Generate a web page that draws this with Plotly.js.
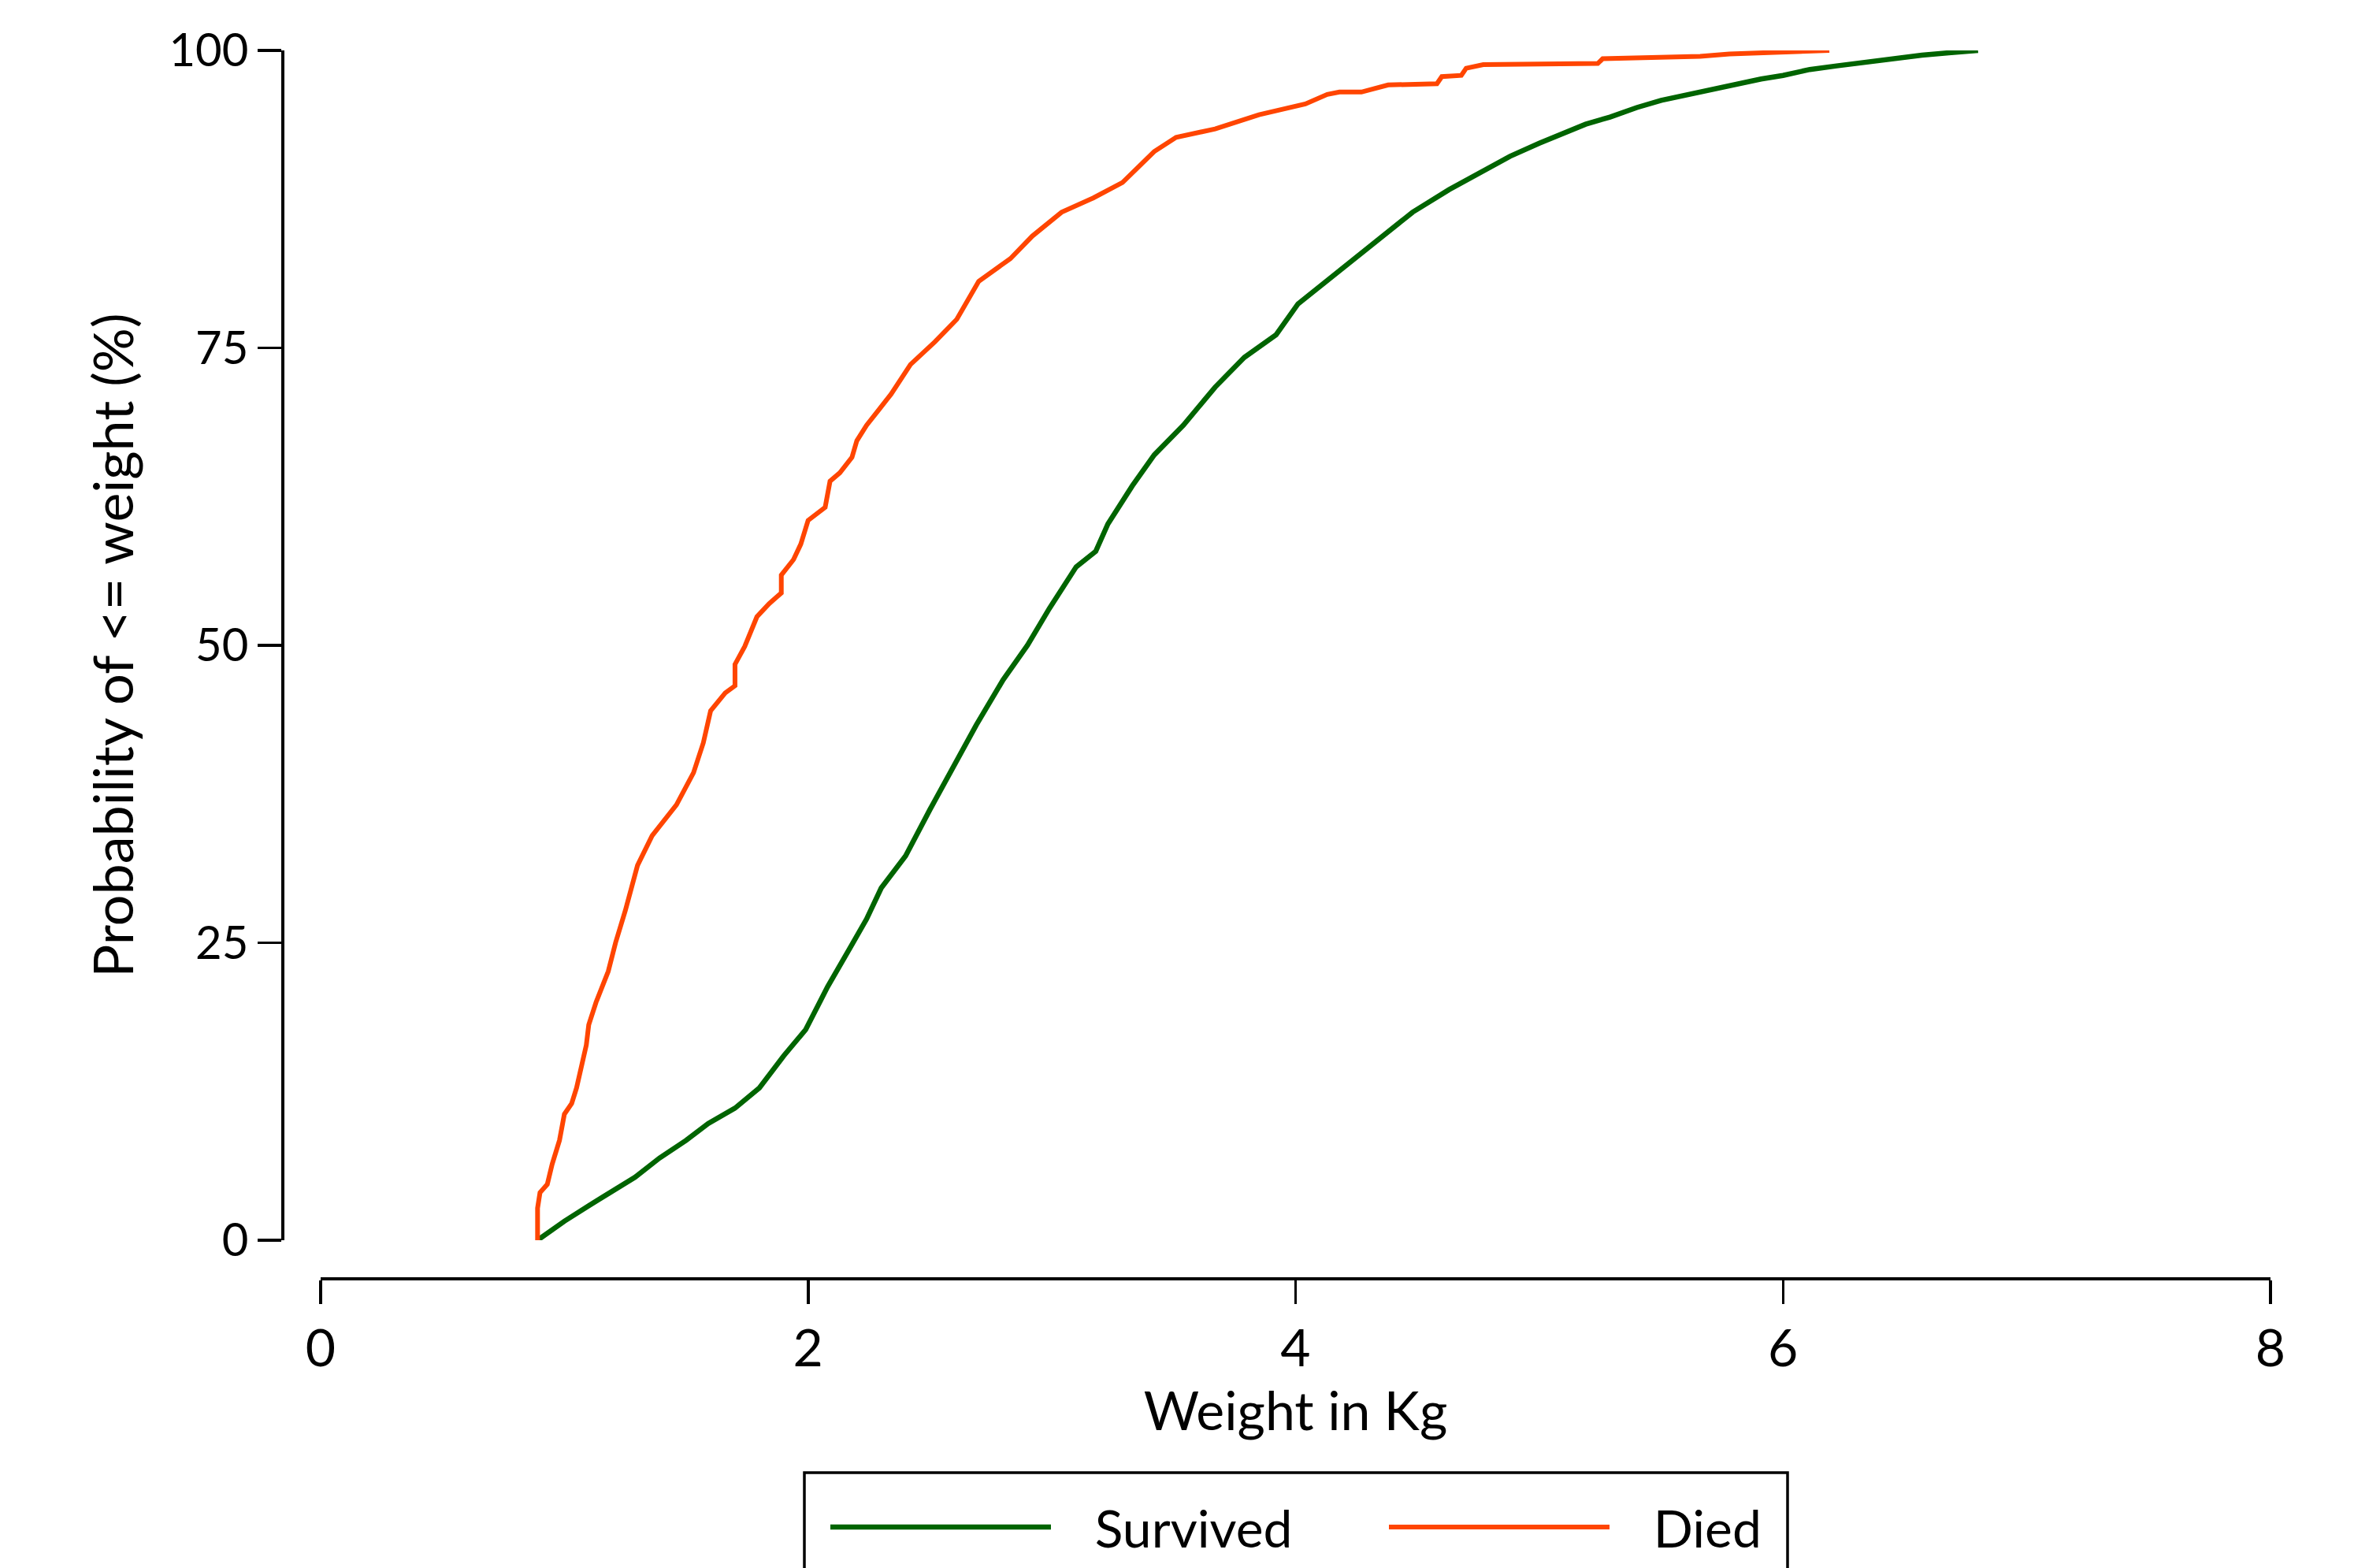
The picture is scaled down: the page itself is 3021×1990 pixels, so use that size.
<!DOCTYPE html>
<html>
<head>
<meta charset="utf-8">
<script src="https://cdn.plot.ly/plotly-3.0.1.min.js"></script>
<style>
  html, body { margin: 0; padding: 0; background: #ffffff; }
  #chart { width: 3021px; height: 1990px; }
</style>
</head>
<body>
<div id="chart"></div>
<script>
// ---- Data ----
var seriesNames = ["Survived", "Died"];
var seriesColors = ["#006400", "#FF4500"];

// Survived: weight (kg) and cumulative probability (%)
var survivedWeight = [0.89, 1.00, 1.10, 1.20, 1.29, 1.39, 1.50, 1.59, 1.70, 1.80, 1.90, 1.99,
  2.08, 2.17, 2.24, 2.30, 2.40, 2.50, 2.60, 2.69, 2.80, 2.90, 2.99, 3.10, 3.18,
  3.23, 3.33, 3.42, 3.54, 3.67, 3.79, 3.92, 4.01, 4.17, 4.32, 4.48, 4.63, 4.82,
  4.88, 5.00, 5.09, 5.19, 5.29, 5.40, 5.50, 5.61, 5.70, 5.81, 5.91, 6.00, 6.11,
  6.22, 6.33, 6.44, 6.57, 6.68, 6.80];
var survivedProb = [0, 1.6, 2.9, 4.2, 5.3, 6.9, 8.4, 9.8, 11.1, 12.8, 15.5, 17.7,
  21.3, 24.5, 27.0, 29.6, 32.3, 36.2, 40.0, 43.3, 47.1, 50.0, 53.1, 56.6, 57.9,
  60.2, 63.4, 66.0, 68.5, 71.7, 74.2, 76.1, 78.7, 81.3, 83.8, 86.4, 88.3, 90.4,
  91.1, 92.2, 93.0, 93.8, 94.4, 95.2, 95.8, 96.3, 96.7, 97.2, 97.6, 97.9, 98.4,
  98.7, 99.0, 99.3, 99.6, 99.8, 100];

// Died: weight (kg) and cumulative probability (%)
var diedWeight = [0.89, 0.89, 0.90, 0.93, 0.95, 0.98, 1.00, 1.03, 1.05, 1.07, 1.09, 1.10,
  1.13, 1.18, 1.21, 1.25, 1.30, 1.36, 1.46, 1.53, 1.57, 1.60, 1.66, 1.70, 1.70,
  1.74, 1.79, 1.84, 1.89, 1.89, 1.94, 1.97, 2.00, 2.07, 2.09, 2.13, 2.18, 2.20,
  2.24, 2.29, 2.34, 2.42, 2.52, 2.61, 2.70, 2.83, 2.92, 3.04, 3.17, 3.29, 3.42,
  3.51, 3.67, 3.85, 4.04, 4.13, 4.18, 4.27, 4.38, 4.58, 4.60, 4.68, 4.70, 4.77,
  5.24, 5.26, 5.66, 5.78, 6.15, 6.19];
var diedProb = [0, 2.7, 4.0, 4.7, 6.4, 8.4, 10.6, 11.5, 12.8, 14.8, 16.4, 18.1,
  20.0, 22.6, 25.0, 27.7, 31.5, 34.0, 36.6, 39.3, 41.8, 44.5, 46.0, 46.6, 48.4,
  49.9, 52.4, 53.5, 54.4, 55.9, 57.2, 58.5, 60.5, 61.6, 63.8, 64.5, 65.8, 67.2,
  68.5, 69.8, 71.1, 73.6, 75.5, 77.4, 80.6, 82.5, 84.4, 86.4, 87.6, 88.9, 91.5,
  92.7, 93.4, 94.6, 95.5, 96.3, 96.5, 96.5, 97.1, 97.2, 97.8, 97.9, 98.5, 98.8,
  98.9, 99.3, 99.5, 99.7, 99.9, 100];

var xTickVals = [0, 2, 4, 6, 8];
var xTickText = ["0", "2", "4", "6", "8"];
var yTickVals = [0, 25, 50, 75, 100];
var yTickText = ["0", "25", "50", "75", "100"];

var xTitle = "Weight in Kg";
var yTitle = "Probability of &lt;= weight (%)";

// ---- Layout geometry ----
var W = 3021, H = 1990;
var FONT = "Lato, 'Open Sans', sans-serif";
var mL = 358, mR = 139, mT = 64, mB = 368;
var plotW = W - mL - mR, plotH = H - mT - mB;
function px2fx(p) { return (p - mL) / plotW; }
function px2fy(p) { return (H - mB - p) / plotH; }

var pad = "\u00a0\u00a0\u00a0";

var traces = [
  {
    type: "scatter", mode: "lines",
    x: survivedWeight, y: survivedProb,
    name: pad + seriesNames[0],
    line: { color: seriesColors[0], width: 6.5 },
    cliponaxis: false,
    legendwidth: 414
  },
  {
    type: "scatter", mode: "lines",
    x: diedWeight, y: diedProb,
    name: pad + seriesNames[1],
    line: { color: seriesColors[1], width: 6 },
    cliponaxis: false
  }
];

var layout = {
  width: W, height: H,
  paper_bgcolor: "#ffffff", plot_bgcolor: "#ffffff",
  margin: { l: mL, r: mR, t: mT, b: mB, autoexpand: false },
  font: { family: FONT, color: "#000000", size: 66 },
  showlegend: true,
  xaxis: {
    range: [0, 8], domain: [px2fx(407), 1],
    anchor: "free", position: 0,
    tickmode: "array", tickvals: xTickVals, ticktext: xTickText,
    ticks: "outside", ticklen: 30, tickwidth: 3.5, tickcolor: "#000000",
    showline: true, linewidth: 3.5, linecolor: "#000000",
    showgrid: false, zeroline: false,
    tickfont: { family: FONT, size: 66, color: "#000000" },
    title: { text: xTitle, font: { family: FONT, size: 68, color: "#000000" }, standoff: 10 }
  },
  yaxis: {
    range: [0, 100], domain: [px2fy(1574), 1],
    anchor: "free", position: 0,
    tickmode: "array", tickvals: yTickVals, ticktext: yTickText,
    ticks: "outside", ticklen: 30, tickwidth: 3.5, tickcolor: "#000000",
    showline: true, linewidth: 3.5, linecolor: "#000000",
    showgrid: false, zeroline: false,
    tickfont: { family: FONT, size: 58, color: "#000000" },
    title: { text: yTitle, font: { family: FONT, size: 70, color: "#000000" }, standoff: 20 }
  },
  legend: {
    orientation: "h",
    x: px2fx(1049), xanchor: "left",
    y: px2fy(1938), yanchor: "middle",
    itemwidth: 280,
    font: { family: FONT, size: 66, color: "#000000" },
    bgcolor: "rgba(0,0,0,0)", borderwidth: 0,
    itemclick: false, itemdoubleclick: false
  },
  shapes: [
    {
      type: "rect", xref: "paper", yref: "paper",
      x0: px2fx(1021), x1: px2fx(2269),
      y0: px2fy(2030), y1: px2fy(1869),
      line: { color: "#000000", width: 3.5 },
      fillcolor: "rgba(0,0,0,0)", layer: "below"
    }
  ]
};

Plotly.newPlot("chart", traces, layout, { staticPlot: true, displayModeBar: false });
</script>
</body>
</html>
